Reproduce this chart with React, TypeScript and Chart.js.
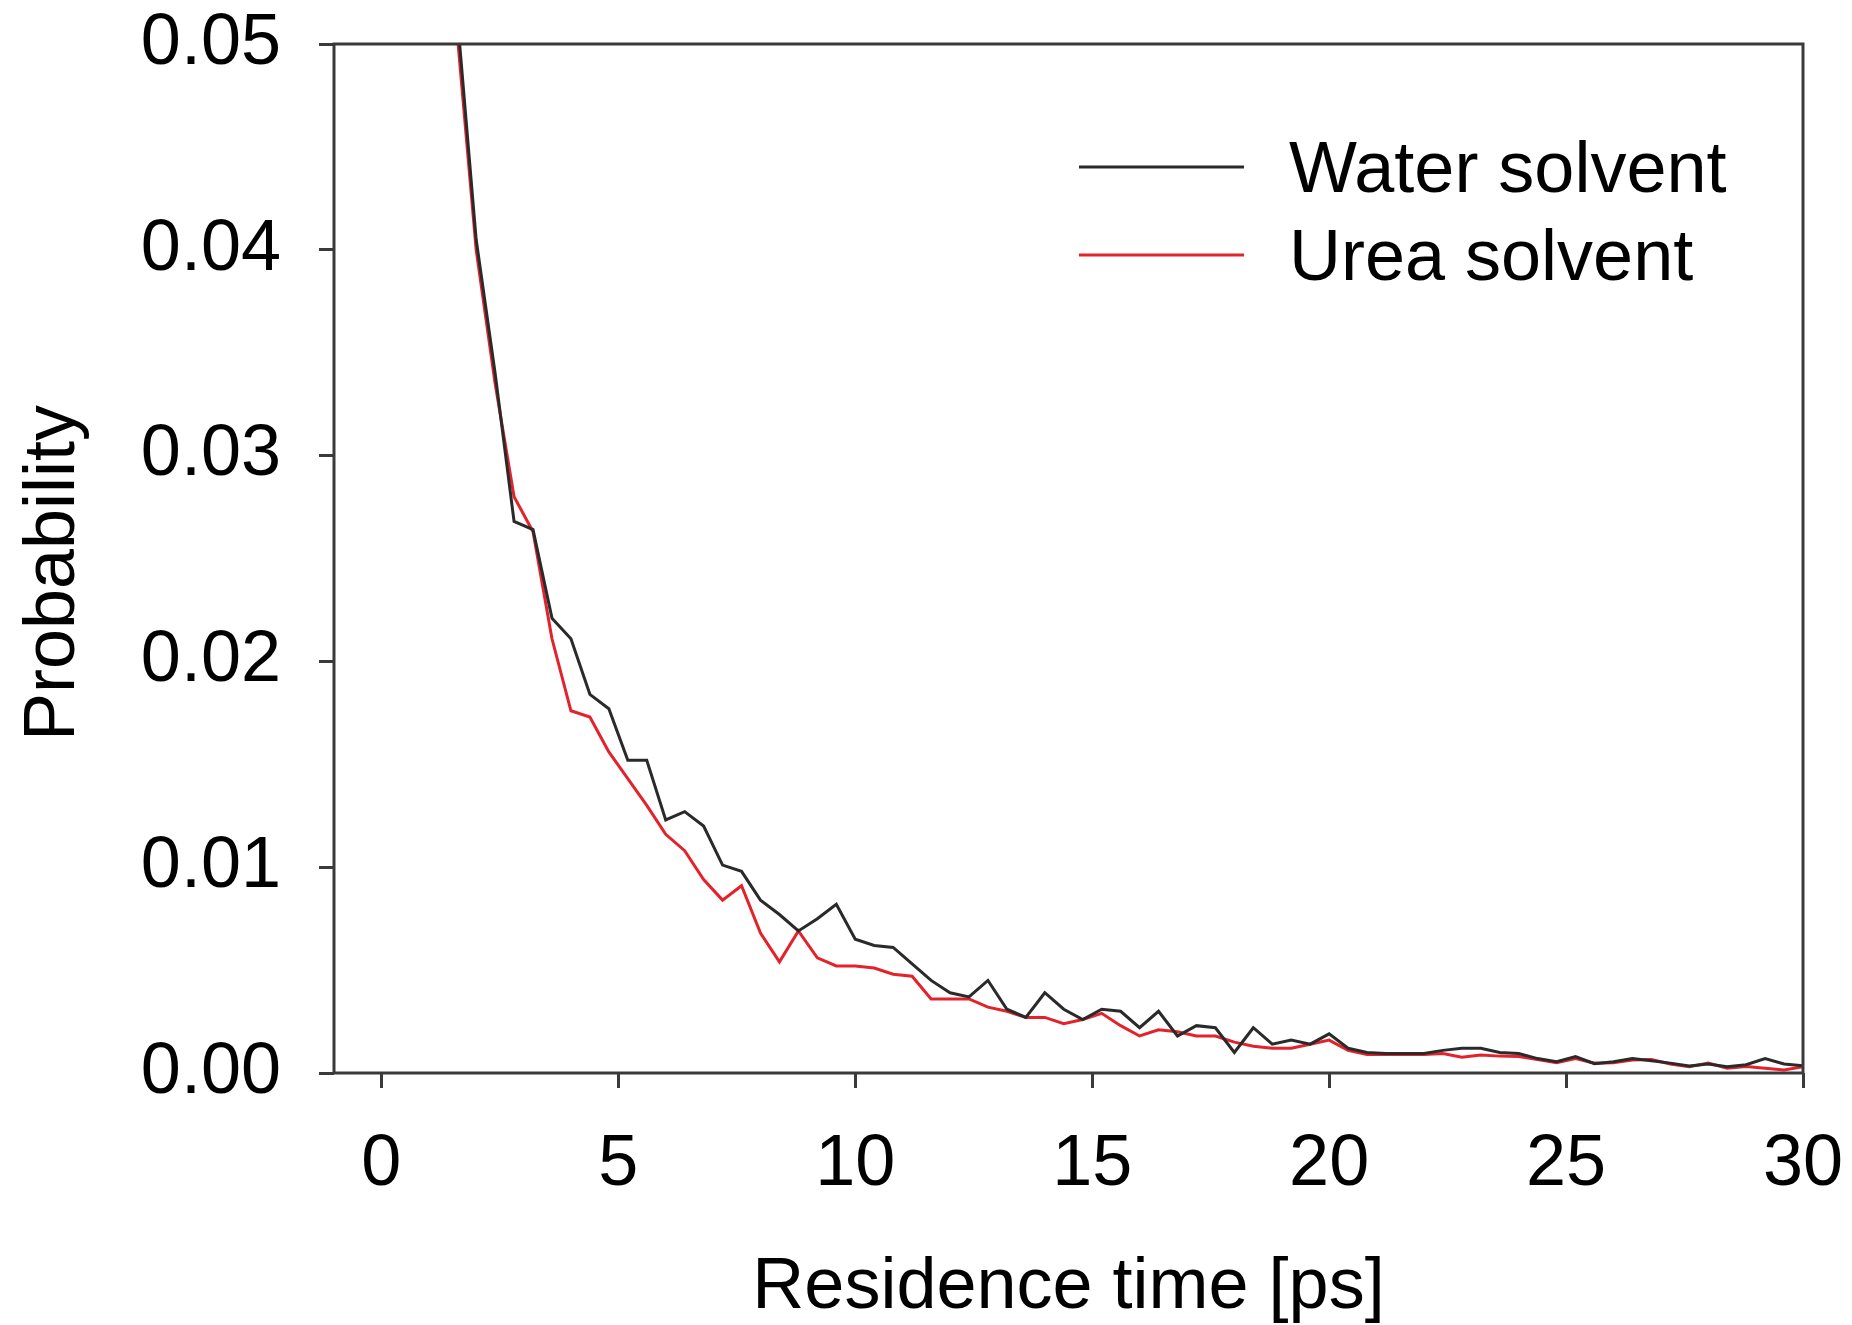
import React, { useEffect, useRef } from 'react';
import { Chart, registerables } from 'chart.js';

Chart.register(...registerables);

// ---- Data ----
const timePs = [
  1.6, 2.0, 2.4, 2.8, 3.2, 3.6, 4.0, 4.4, 4.8, 5.2, 5.6, 6.0, 6.4, 6.8, 7.2, 7.6,
  8.0, 8.4, 8.8, 9.2, 9.6, 10.0, 10.4, 10.8, 11.2, 11.6, 12.0, 12.4, 12.8, 13.2,
  13.6, 14.0, 14.4, 14.8, 15.2, 15.6, 16.0, 16.4, 16.8, 17.2, 17.6, 18.0, 18.4,
  18.8, 19.2, 19.6, 20.0, 20.4, 20.8, 21.2, 21.6, 22.0, 22.4, 22.8, 23.2, 23.6,
  24.0, 24.4, 24.8, 25.2, 25.6, 26.0, 26.4, 26.8, 27.2, 27.6, 28.0, 28.4, 28.8,
  29.2, 29.6, 30.0,
];

const waterSolvent = [
  0.0514, 0.0405, 0.034, 0.0268, 0.0264, 0.0221, 0.0211, 0.0184, 0.0177, 0.0152,
  0.0152, 0.0123, 0.0127, 0.012, 0.0101, 0.0098, 0.0084, 0.0077, 0.0069, 0.0075,
  0.0082, 0.0065, 0.0062, 0.0061, 0.0053, 0.0045, 0.0039, 0.0037, 0.0045, 0.0031,
  0.0027, 0.0039, 0.0031, 0.0026, 0.0031, 0.003, 0.0022, 0.003, 0.0018, 0.0023,
  0.0022, 0.001, 0.0022, 0.0014, 0.0016, 0.0014, 0.0019, 0.0012, 0.001, 0.00095,
  0.00095, 0.00095, 0.0011, 0.0012, 0.0012, 0.001, 0.00095, 0.0007, 0.00055, 0.0008,
  0.00045, 0.00055, 0.0007, 0.0006, 0.00048, 0.00034, 0.00044, 0.0003, 0.0004,
  0.0007, 0.00044, 0.00035,
];

const ureaSolvent = [
  0.0505, 0.04, 0.0335, 0.028, 0.0263, 0.0211, 0.0176, 0.0173, 0.0156, 0.0143,
  0.013, 0.0116, 0.0108, 0.0094, 0.0084, 0.0091, 0.0068, 0.0054, 0.0069, 0.0056,
  0.0052, 0.0052, 0.0051, 0.0048, 0.0047, 0.0036, 0.0036, 0.0036, 0.0032, 0.003,
  0.0027, 0.0027, 0.0024, 0.0026, 0.0029, 0.0023, 0.0018, 0.0021, 0.002, 0.0018,
  0.0018, 0.0015, 0.0013, 0.0012, 0.0012, 0.0014, 0.0016, 0.0011, 0.0009, 0.0009,
  0.0009, 0.0009, 0.00095, 0.00077, 0.00087, 0.00082, 0.0008, 0.00066, 0.0005,
  0.0007, 0.00048, 0.0005, 0.00063, 0.00066, 0.00044, 0.00031, 0.00048, 0.00023,
  0.00031, 0.00023, 0.00015, 0.0003,
];

const seriesLabels = ['Water solvent', 'Urea solvent'];
const xTickValues = [0, 5, 10, 15, 20, 25, 30];
const yTickValues = [0, 0.01, 0.02, 0.03, 0.04, 0.05];
const xAxisTitle = 'Residence time [ps]';
const yAxisTitle = 'Probability';

// ---- Styles ----
const FONT = "'Liberation Sans', Arial, Helvetica, sans-serif";
const FONT_SIZE = 72;
const AXIS_COLOR = '#3a3a3a';
const WATER_COLOR = '#2a2a2a';
const UREA_COLOR = '#e3222c';
const LINE_W = 3;
const W = 1852;
const H = 1325;

const decorPlugin = {
  id: 'decor',
  afterDatasetsDraw(chart: any) {
    const { ctx, chartArea: a } = chart;
    ctx.save();
    // frame
    ctx.strokeStyle = AXIS_COLOR;
    ctx.lineWidth = 3;
    ctx.strokeRect(a.left, a.top, a.right - a.left, a.bottom - a.top);

    // legend
    const rows = [167, 255];
    chart.data.datasets.forEach((ds: any, i: number) => {
      const y = rows[i];
      ctx.strokeStyle = ds.borderColor;
      ctx.lineWidth = LINE_W;
      ctx.beginPath();
      ctx.moveTo(1079, y);
      ctx.lineTo(1244, y);
      ctx.stroke();
      ctx.fillStyle = '#000';
      ctx.font = `${FONT_SIZE}px ${FONT}`;
      ctx.textAlign = 'left';
      ctx.textBaseline = 'alphabetic';
      ctx.fillText(ds.label, 1289, y + 25);
    });

    // axis titles
    ctx.fillStyle = '#000';
    ctx.font = `${FONT_SIZE}px ${FONT}`;
    ctx.textAlign = 'center';
    ctx.textBaseline = 'alphabetic';
    ctx.fillText(xAxisTitle, (a.left + a.right) / 2, 1308);

    ctx.translate(74, 573);
    ctx.rotate(-Math.PI / 2);
    ctx.fillText(yAxisTitle, 0, 0);
    ctx.restore();
  },
};

export default function App() {
  const canvasRef = useRef<HTMLCanvasElement | null>(null);

  useEffect(() => {
    const canvas = canvasRef.current;
    if (!canvas) return;
    const chart = new Chart(canvas, {
      type: 'line',
      data: {
        datasets: [
          {
            label: seriesLabels[0],
            data: timePs.map((t, i) => ({ x: t, y: waterSolvent[i] })),
            borderColor: WATER_COLOR,
            borderWidth: LINE_W,
            pointRadius: 0,
            tension: 0,
            fill: false,
            clip: 0,
          },
          {
            label: seriesLabels[1],
            data: timePs.map((t, i) => ({ x: t, y: ureaSolvent[i] })),
            borderColor: UREA_COLOR,
            borderWidth: LINE_W,
            pointRadius: 0,
            tension: 0,
            fill: false,
            clip: 0,
          },
        ],
      },
      options: {
        responsive: false,
        maintainAspectRatio: false,
        animation: false,
        devicePixelRatio: 1,
        layout: { padding: { top: 44, right: 49, left: 0, bottom: 0 } },
        plugins: {
          legend: { display: false },
          tooltip: { enabled: false },
          title: { display: false },
        },
        scales: {
          x: {
            type: 'linear',
            min: -1,
            max: 30,
            afterFit: (scale: any) => {
              scale.height = H - 1073;
              scale.paddingLeft = 0;
              scale.paddingRight = 0;
              scale.paddingTop = 0;
              scale.paddingBottom = 0;
            },
            afterBuildTicks: (scale: any) => {
              scale.ticks = xTickValues.map((v) => ({ value: v }));
            },
            border: { display: false },
            grid: {
              drawOnChartArea: false,
              drawTicks: true,
              tickLength: 15,
              tickWidth: 3,
              tickColor: AXIS_COLOR,
            },
            ticks: {
              color: '#000',
              font: { family: FONT, size: FONT_SIZE },
              padding: 34,
              maxRotation: 0,
              autoSkip: false,
              callback: (v: any) => String(v),
            },
          },
          y: {
            type: 'linear',
            min: 0,
            max: 0.05,
            afterFit: (scale: any) => {
              scale.width = 334;
              scale.paddingLeft = 0;
              scale.paddingRight = 0;
              scale.paddingTop = 0;
              scale.paddingBottom = 0;
            },
            afterBuildTicks: (scale: any) => {
              scale.ticks = yTickValues.map((v) => ({ value: v }));
            },
            border: { display: false },
            grid: {
              drawOnChartArea: false,
              drawTicks: true,
              tickLength: 15,
              tickWidth: 3,
              tickColor: AXIS_COLOR,
            },
            ticks: {
              color: '#000',
              font: { family: FONT, size: FONT_SIZE },
              padding: 38,
              autoSkip: false,
              callback: (v: any) => Number(v).toFixed(2),
            },
          },
        },
      },
      plugins: [decorPlugin],
    });
    return () => chart.destroy();
  }, []);

  return (
    <div style={{ position: 'absolute', left: 0, top: 0, width: W, height: H, background: '#fff' }}>
      <canvas ref={canvasRef} width={W} height={H} style={{ width: W, height: H, display: 'block' }} />
    </div>
  );
}
